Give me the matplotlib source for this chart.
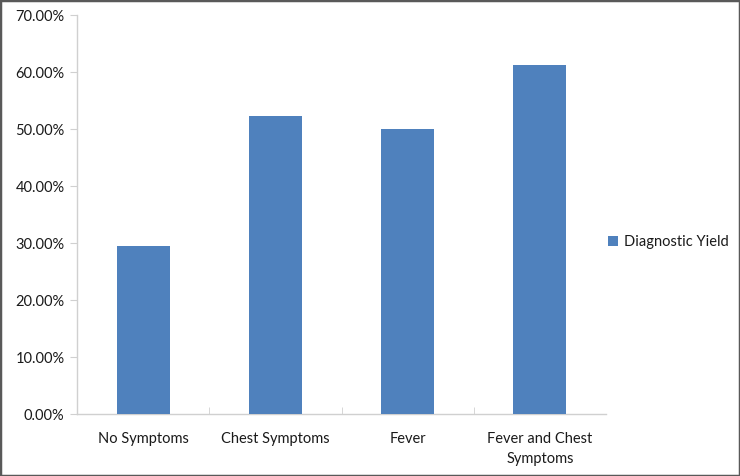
import matplotlib
matplotlib.use("Agg")
import matplotlib.pyplot as plt
from matplotlib.patches import Rectangle
from matplotlib.ticker import FuncFormatter

categories = ["No Symptoms", "Chest Symptoms", "Fever", "Fever and Chest\nSymptoms"]
values = [29.5, 52.4, 50.0, 61.2]
series_name = "Diagnostic Yield"
yticks = [0, 10, 20, 30, 40, 50, 60, 70]

plt.rcParams['font.family'] = ['Lato', 'DejaVu Sans']
fig = plt.figure(figsize=(7.4, 4.76), dpi=100)
ax = fig.add_axes([0.104, 0.130, 0.715, 0.838])

x = list(range(len(categories)))
ax.bar(x, values, width=0.4, color="#4F81BD", label=series_name, zorder=3)
ax.set_xlim(-0.5, len(categories) - 0.5)
ax.set_ylim(0, 70)
ax.set_yticks(yticks)
ax.yaxis.set_major_formatter(FuncFormatter(lambda v, p: f"{v:.2f}%"))
ax.set_xticks(x)
ax.set_xticklabels(categories, linespacing=1.55)
ax.set_xticks([i + 0.5 for i in x[:-1]], minor=True)

for s in ["top", "right"]:
    ax.spines[s].set_visible(False)
for s in ["left", "bottom"]:
    ax.spines[s].set_color("#D0D0D0")
    ax.spines[s].set_linewidth(1)

ax.tick_params(axis="y", colors="#D0D0D0", labelcolor="#1A1A1A", labelsize=10.5, length=5, pad=4)
ax.tick_params(axis="x", which="major", length=0, labelcolor="#1A1A1A", labelsize=10.5, pad=13)
ax.tick_params(axis="x", which="minor", length=5, colors="#D0D0D0", direction="in")

leg = ax.legend(loc="center left", bbox_to_anchor=(0.822, 0.492),
                bbox_transform=fig.transFigure, frameon=False,
                fontsize=10.5, handlelength=0.65, handleheight=0.65, handletextpad=0.45,
                borderaxespad=0.0, borderpad=0.0, labelcolor="#1A1A1A")

fig.patches.append(Rectangle((0, 0), 1, 1, transform=fig.transFigure, fill=False,
                             edgecolor="#595959", linewidth=2.5))
fig.savefig("out.png", dpi=100)
